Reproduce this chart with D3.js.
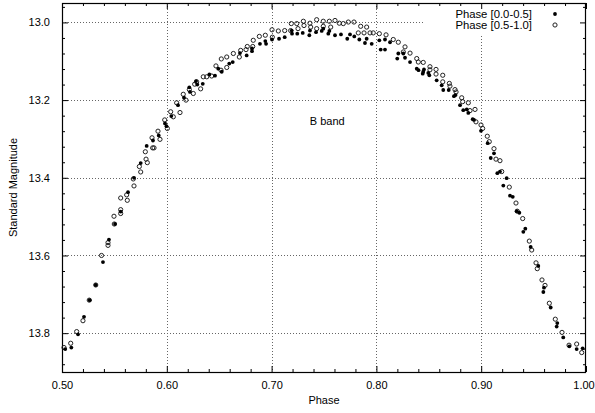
<!DOCTYPE html>
<html>
<head>
<meta charset="utf-8">
<script src="https://cdn.jsdelivr.net/npm/d3@7"></script>
<style>
  html, body { margin: 0; padding: 0; background: #fff; }
  svg text { font-family: "Liberation Sans", Arial, Helvetica, sans-serif; fill: #000; }
</style>
</head>
<body>
<svg id="chart" width="595" height="413"></svg>
<script>
// Light curve, B band: phase vs. standard magnitude, split into two phase halves

// Phase [0.0-0.5] (filled dots)
const phaseA = [0.5031,0.5089,0.5153,0.5210,0.5264,0.5322,0.5391,0.5448,0.5506,0.5560,
  0.5630,0.5687,0.5751,0.5808,0.5868,0.5923,0.5983,0.5997,0.6043,0.6107,
  0.6164,0.6215,0.6221,0.6279,0.6291,0.6343,0.6406,0.6460,0.6491,0.6524,
  0.6596,0.6629,0.6698,0.6762,0.6813,0.6813,0.6889,0.6947,0.6940,0.7004,
  0.7071,0.7125,0.7195,0.7245,0.7192,0.7297,0.7360,0.7366,0.7424,0.7478,
  0.7493,0.7551,0.7541,0.7605,0.7662,0.7722,0.7748,0.7789,0.7837,0.7891,
  0.7907,0.7955,0.8028,0.8082,0.8041,0.8082,0.8130,0.8209,0.8257,0.8199,
  0.8273,0.8321,0.8385,0.8402,0.8447,0.8495,0.8442,0.8454,0.8505,0.8575,
  0.8623,0.8638,0.8690,0.8740,0.8755,0.8798,0.8829,0.8862,0.8877,0.8919,
  0.8931,0.8998,0.9062,0.9122,0.9091,0.9154,0.9179,0.9243,0.9211,0.9275,
  0.9301,0.9339,0.9364,0.9421,0.9402,0.9472,0.9545,0.9599,0.9593,0.9663,
  0.9726,0.9720,0.9783,0.9841,0.9911,0.9968];
const magA = [13.841,13.837,13.803,13.758,13.715,13.676,13.617,13.559,13.519,13.487,
  13.437,13.400,13.362,13.318,13.304,13.291,13.260,13.267,13.241,13.213,
  13.194,13.167,13.179,13.151,13.160,13.158,13.134,13.137,13.119,13.127,
  13.106,13.102,13.079,13.085,13.067,13.074,13.055,13.055,13.048,13.044,
  13.042,13.038,13.029,13.029,13.021,13.027,13.033,13.021,13.025,13.022,
  13.016,13.022,13.029,13.033,13.031,13.042,13.031,13.036,13.044,13.053,
  13.042,13.055,13.046,13.044,13.070,13.070,13.051,13.080,13.080,13.093,
  13.091,13.102,13.119,13.123,13.127,13.130,13.132,13.121,13.136,13.149,
  13.162,13.174,13.174,13.190,13.187,13.213,13.226,13.224,13.233,13.249,
  13.251,13.279,13.311,13.337,13.349,13.388,13.384,13.401,13.420,13.446,
  13.449,13.486,13.490,13.531,13.539,13.578,13.627,13.683,13.694,13.734,
  13.774,13.783,13.811,13.834,13.841,13.839];

// Phase [0.5-1.0] (open circles)
const phaseB = [0.5019,0.5083,0.5140,0.5200,0.5260,0.5322,0.5377,0.5439,0.5439,0.5496,
  0.5499,0.5560,0.5560,0.5560,0.5617,0.5623,0.5680,0.5687,0.5738,0.5751,
  0.5802,0.5814,0.5795,0.5865,0.5878,0.5859,0.5916,0.5935,0.5980,0.6005,
  0.6037,0.6062,0.6094,0.6126,0.6157,0.6183,0.6215,0.6253,0.6266,0.6323,
  0.6285,0.6348,0.6381,0.6428,0.6469,0.6517,0.6520,0.6572,0.6572,0.6635,
  0.6692,0.6705,0.6756,0.6768,0.6820,0.6825,0.6883,0.6940,0.7004,0.7007,
  0.7064,0.7125,0.7188,0.7240,0.7182,0.7252,0.7303,0.7366,0.7430,0.7493,
  0.7551,0.7605,0.7646,0.7684,0.7732,0.7786,0.7309,0.7373,0.7430,0.7493,
  0.7564,0.7850,0.7907,0.7827,0.7882,0.7939,0.7970,0.8028,0.8092,0.8161,
  0.8209,0.8273,0.8257,0.8321,0.8385,0.8400,0.8447,0.8511,0.8511,0.8569,
  0.8569,0.8633,0.8633,0.8696,0.8702,0.8750,0.8760,0.8814,0.8823,0.8877,
  0.8893,0.8941,0.8950,0.8998,0.9014,0.9058,0.9077,0.9122,0.9141,0.9179,
  0.9196,0.9268,0.9332,0.9344,0.9396,0.9459,0.9482,0.9523,0.9535,0.9580,
  0.9609,0.9650,0.9707,0.9771,0.9838,0.9911,0.9959];
const magB = [13.837,13.826,13.796,13.768,13.715,13.676,13.600,13.567,13.574,13.499,
  13.519,13.482,13.492,13.452,13.444,13.458,13.403,13.421,13.371,13.385,
  13.352,13.361,13.333,13.323,13.323,13.297,13.280,13.301,13.251,13.273,
  13.230,13.243,13.207,13.232,13.185,13.200,13.173,13.183,13.159,13.171,
  13.153,13.140,13.140,13.138,13.112,13.123,13.094,13.089,13.116,13.080,
  13.089,13.072,13.070,13.062,13.062,13.046,13.036,13.033,13.019,13.038,
  13.022,13.021,13.003,13.003,13.021,13.016,12.997,13.002,12.993,12.997,
  12.997,12.995,13.002,13.003,12.999,12.999,13.008,13.012,13.016,13.010,
  13.012,13.010,13.012,13.027,13.027,13.027,13.027,13.029,13.032,13.044,
  13.051,13.063,13.076,13.079,13.093,13.102,13.103,13.114,13.122,13.121,
  13.133,13.136,13.153,13.157,13.164,13.173,13.179,13.194,13.204,13.207,
  13.227,13.224,13.256,13.264,13.273,13.293,13.307,13.325,13.352,13.356,
  13.384,13.424,13.465,13.486,13.505,13.563,13.586,13.619,13.634,13.663,
  13.677,13.723,13.764,13.798,13.831,13.828,13.850];

const xMajor = [0.50, 0.60, 0.70, 0.80, 0.90, 1.00];
const yMajor = [13.0, 13.2, 13.4, 13.6, 13.8];
const seriesNames = ["Phase [0.0-0.5]", "Phase [0.5-1.0]"];

const W = 595, H = 413;
const margin = { left: 62, right: 9, top: 3, bottom: 41 };
const pw = W - margin.left - margin.right;
const ph = H - margin.top - margin.bottom;

const x = d3.scaleLinear().domain([0.5, 1.0]).range([0, pw]);
const y = d3.scaleLinear().domain([12.95, 13.9]).range([0, ph]);

const xMinor = d3.range(0, 26).map(i => 0.5 + i * 0.02).filter(v => !xMajor.some(m => Math.abs(m - v) < 1e-9));
const yMinor = d3.range(0, 24).map(i => 12.96 + i * 0.04).filter(v => v <= 13.9 && !yMajor.some(m => Math.abs(m - v) < 1e-9));

const svg = d3.select("#chart");
const g = svg.append("g").attr("transform", `translate(${margin.left},${margin.top})`);

// dotted grid at major ticks
const grid = g.append("g").attr("stroke", "#666").attr("stroke-width", 1).attr("stroke-dasharray", "1,2");
grid.selectAll("line.v").data(xMajor.slice(1, -1)).join("line").attr("class", "v")
  .attr("x1", d => Math.round(x(d)) + 0.5).attr("x2", d => Math.round(x(d)) + 0.5)
  .attr("y1", 0).attr("y2", ph);
grid.selectAll("line.h").data(yMajor).join("line").attr("class", "h")
  .attr("y1", d => Math.round(y(d)) + 0.5).attr("y2", d => Math.round(y(d)) + 0.5)
  .attr("x1", 0).attr("x2", pw);

// key box (opaque, hides the grid behind it)
const keyLeft = 362;
g.append("rect").attr("x", keyLeft).attr("y", 0).attr("width", pw - keyLeft).attr("height", 32).attr("fill", "#fff");

// axes: major ticks with labels, minor ticks; all pointing inward
function styleAxis(sel) {
  sel.select(".domain").remove();
  sel.selectAll(".tick line").attr("stroke", "#000").attr("stroke-width", 1);
  sel.selectAll(".tick text").attr("font-size", 11).attr("font-family", "Liberation Sans, Arial, sans-serif").attr("fill", "#000");
}
function addAxis(axis, tx, ty) {
  const a = g.append("g").attr("transform", `translate(${tx},${ty})`).call(axis);
  styleAxis(a);
  return a;
}
const xAxisG = addAxis(d3.axisBottom(x).tickValues(xMajor).tickFormat(d3.format(".2f")).tickSizeInner(-6).tickSizeOuter(0).tickPadding(9), 0, ph);
// keep the last label inside the page edge
xAxisG.selectAll(".tick text").filter(d => d === 1.0).attr("dx", -2.5);
addAxis(d3.axisBottom(x).tickValues(xMinor).tickFormat("").tickSizeInner(-3).tickSizeOuter(0), 0, ph);
addAxis(d3.axisTop(x).tickValues(xMajor).tickFormat("").tickSizeInner(-6).tickSizeOuter(0), 0, 0);
addAxis(d3.axisTop(x).tickValues(xMinor).tickFormat("").tickSizeInner(-3).tickSizeOuter(0), 0, 0);
addAxis(d3.axisLeft(y).tickValues(yMajor).tickFormat(d3.format(".1f")).tickSizeInner(-6).tickSizeOuter(0).tickPadding(12), 0, 0);
addAxis(d3.axisLeft(y).tickValues(yMinor).tickFormat("").tickSizeInner(-3).tickSizeOuter(0), 0, 0);
addAxis(d3.axisRight(y).tickValues(yMajor).tickFormat("").tickSizeInner(-6).tickSizeOuter(0), pw, 0);
addAxis(d3.axisRight(y).tickValues(yMinor).tickFormat("").tickSizeInner(-3).tickSizeOuter(0), pw, 0);

// frame
g.append("rect").attr("x", 0.5).attr("y", 0.5).attr("width", pw - 1).attr("height", ph)
  .attr("fill", "none").attr("stroke", "#000").attr("stroke-width", 1.2);

// data points
const dataA = phaseA.map((p, i) => ({ p, m: magA[i] }));
const dataB = phaseB.map((p, i) => ({ p, m: magB[i] }));

g.append("g").selectAll("circle").data(dataB).join("circle")
  .attr("cx", d => x(d.p)).attr("cy", d => y(d.m)).attr("r", 2.1)
  .attr("fill", "none").attr("stroke", "#222").attr("stroke-width", 1);
g.append("g").selectAll("circle").data(dataA).join("circle")
  .attr("cx", d => x(d.p)).attr("cy", d => y(d.m)).attr("r", 1.9)
  .attr("fill", "#000");

// annotation
g.append("text").attr("x", x(0.7365)).attr("y", y(13.265)).attr("font-size", 11).text("B band");

// key
const key = g.append("g");
key.selectAll("text").data(seriesNames).join("text")
  .attr("x", 470).attr("y", (d, i) => 15 + i * 11)
  .attr("text-anchor", "end").attr("font-size", 11.3).text(d => d);
key.append("circle").attr("cx", 493).attr("cy", 11).attr("r", 1.9).attr("fill", "#000");
key.append("circle").attr("cx", 493).attr("cy", 22).attr("r", 2.1).attr("fill", "none").attr("stroke", "#222").attr("stroke-width", 1);

// axis titles
svg.append("text").attr("x", margin.left + pw / 2).attr("y", 404).attr("text-anchor", "middle").attr("font-size", 11).text("Phase");
svg.append("text").attr("transform", `translate(17,${margin.top + ph / 2}) rotate(-90)`)
  .attr("text-anchor", "middle").attr("font-size", 11).text("Standard Magnitude");
</script>
</body>
</html>
